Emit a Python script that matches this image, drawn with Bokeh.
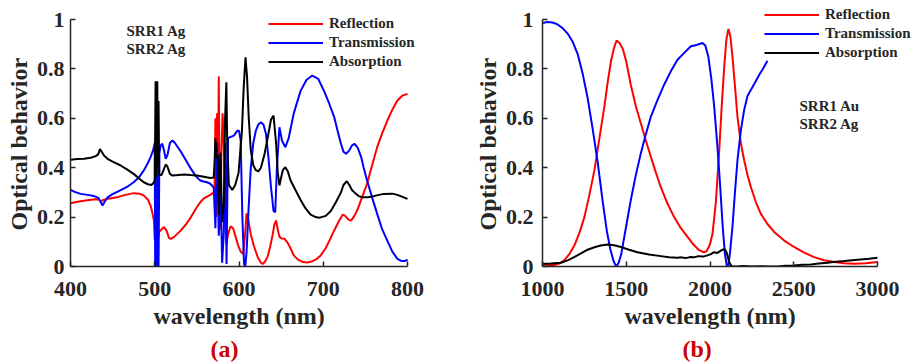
from bokeh.plotting import figure
from bokeh.layouts import row
from bokeh.models import Label, Legend, LegendItem, Title, FixedTicker, Range1d
from bokeh.embed import file_html
from bokeh.resources import INLINE

# ---------------- Panel (a): SRR1 Ag / SRR2 Ag ----------------
wl_a_R = [400, 410, 420, 430, 434, 436, 438, 445, 455, 465, 475, 482, 487, 492, 495, 497, 499, 500, 501, 502, 503, 504, 505, 508, 511, 514, 517, 519, 523, 527, 531, 537, 543, 549, 554, 558, 562, 566, 570, 571, 572, 573, 574, 575, 576, 577, 578, 579, 580.5, 582, 583.5, 585, 587, 590, 593, 596, 599, 602, 605, 607, 609, 611, 614, 618, 622, 626, 628, 631, 634, 637, 640, 642, 644, 646, 648, 651, 654, 657, 661, 665, 670, 676, 681, 686, 692, 697, 703, 708, 713, 718, 723, 726, 730, 733, 737, 741, 746, 752, 758, 764, 770, 776, 782, 788, 794, 800]
R_a = [0.256, 0.263, 0.268, 0.272, 0.271, 0.262, 0.268, 0.274, 0.28, 0.29, 0.297, 0.295, 0.287, 0.27, 0.247, 0.22, 0.186, 0.108, 0.14, 0.11, 0.13, 0.11, 0.14, 0.15, 0.16, 0.145, 0.115, 0.112, 0.12, 0.133, 0.146, 0.17, 0.2, 0.235, 0.26, 0.275, 0.283, 0.29, 0.3, 0.31, 0.6, 0.2, 0.62, 0.3, 0.77, 0.25, 0.15, 0.45, 0.62, 0.5, 0.25, 0.09, 0.13, 0.163, 0.155, 0.12, 0.085, 0.06, 0.05, 0.12, 0.215, 0.19, 0.13, 0.08, 0.04, 0.015, 0.01, 0.02, 0.04, 0.08, 0.13, 0.17, 0.186, 0.15, 0.12, 0.113, 0.112, 0.1, 0.075, 0.045, 0.028, 0.018, 0.016, 0.02, 0.03, 0.045, 0.075, 0.11, 0.146, 0.18, 0.21, 0.205, 0.19, 0.186, 0.205, 0.233, 0.28, 0.335, 0.41, 0.483, 0.54, 0.59, 0.635, 0.672, 0.692, 0.699]

wl_a_T = [400, 405, 412, 420, 428, 433, 436, 438, 441, 444, 450, 459, 467, 475, 481, 487, 492, 495, 498, 500, 500.5, 501, 501.5, 502, 502.5, 503, 503.5, 504, 504.5, 505.5, 507, 509, 511, 513, 515, 518, 521, 524, 527, 531, 537, 543, 549, 554, 558, 562, 566, 570, 572, 574, 576, 578, 580, 582, 584, 585.2, 587, 590, 594, 598, 600, 602, 604, 606, 607.5, 609, 611.6, 614, 617, 620, 623, 626, 629, 632, 635, 638, 641, 643, 645, 648, 651, 655, 659, 665, 673, 680, 687, 694, 701, 707, 713, 717, 721, 724, 727, 731, 734, 737, 741, 745, 748, 752, 758, 764, 770, 776, 782, 788, 793, 797, 800]
T_a = [0.31, 0.302, 0.294, 0.29, 0.285, 0.278, 0.26, 0.247, 0.265, 0.28, 0.293, 0.308, 0.322, 0.341, 0.36, 0.389, 0.42, 0.443, 0.47, 0.5, 0.0, 0.45, 0.0, 0.38, 0.0, 0.4, 0.02, 0.35, 0.0, 0.46, 0.49, 0.497, 0.47, 0.436, 0.45, 0.5, 0.51, 0.5, 0.485, 0.465, 0.43, 0.395, 0.365, 0.348, 0.344, 0.341, 0.335, 0.32, 0.155, 0.5, 0.125, 0.34, 0.015, 0.14, 0.5, 0.01, 0.52, 0.525, 0.53, 0.55, 0.55, 0.51, 0.2, 0.01, 0.0, 0.06, 0.25, 0.4, 0.5, 0.55, 0.575, 0.584, 0.575, 0.537, 0.44, 0.32, 0.225, 0.22, 0.4, 0.564, 0.51, 0.483, 0.52, 0.62, 0.71, 0.755, 0.773, 0.76, 0.71, 0.66, 0.605, 0.55, 0.497, 0.465, 0.456, 0.47, 0.49, 0.497, 0.48, 0.443, 0.4, 0.348, 0.28, 0.213, 0.15, 0.105, 0.06, 0.031, 0.022, 0.022, 0.028]

wl_a_A = [400, 408, 416, 424, 430, 433, 435, 437, 440, 444, 450, 459, 467, 475, 481, 487, 492, 496, 499, 500, 501, 501.5, 502, 503, 503.7, 504.5, 505.3, 508, 511, 513, 515, 518, 521, 528, 535, 542, 550, 560, 566, 570, 571, 572, 573, 574, 575, 576, 577, 578, 580, 582, 583.5, 585, 586, 588, 592, 595.5, 599.5, 603.5, 605.5, 607.7, 609.5, 611.6, 614, 617, 620, 623, 626, 630, 634, 638, 641, 644, 646, 648, 650, 652, 655, 658, 661, 667, 673, 679, 685, 691, 695, 703, 709, 715, 721, 724, 728, 731, 734, 737, 742, 747, 753, 760, 766, 772, 782, 788, 794, 800]
A_a = [0.432, 0.435, 0.436, 0.44, 0.447, 0.455, 0.475, 0.465, 0.448, 0.436, 0.425, 0.41, 0.393, 0.375, 0.357, 0.341, 0.333, 0.33, 0.34, 0.35, 0.75, 0.36, 0.5, 0.75, 0.4, 0.67, 0.37, 0.37, 0.395, 0.413, 0.405, 0.375, 0.368, 0.37, 0.372, 0.37, 0.368, 0.362, 0.358, 0.36, 0.42, 0.52, 0.46, 0.44, 0.45, 0.21, 0.35, 0.46, 0.18, 0.25, 0.6, 0.746, 0.5, 0.33, 0.31, 0.33, 0.38, 0.55, 0.72, 0.847, 0.77, 0.6, 0.47, 0.41, 0.39, 0.385, 0.4, 0.45, 0.52, 0.595, 0.611, 0.5, 0.38, 0.328, 0.36, 0.39, 0.402, 0.385, 0.35, 0.31, 0.27, 0.235, 0.21, 0.2, 0.197, 0.205, 0.225, 0.26, 0.3, 0.33, 0.345, 0.33, 0.31, 0.3, 0.285, 0.28, 0.28, 0.285, 0.29, 0.294, 0.295, 0.29, 0.282, 0.274]

# ---------------- Panel (b): SRR1 Au / SRR2 Ag ----------------
wl_b_R = [1000, 1040, 1070, 1100, 1130, 1160, 1190, 1220, 1250, 1280, 1310, 1340, 1370, 1390, 1410, 1425, 1442, 1460, 1480, 1500, 1527, 1557, 1587, 1617, 1647, 1677, 1706, 1746, 1786, 1826, 1866, 1900, 1935, 1960, 1980, 2000, 2015, 2035, 2055, 2070, 2085, 2098, 2110, 2122, 2134, 2149, 2164, 2184, 2204, 2224, 2244, 2274, 2303, 2343, 2383, 2443, 2502, 2562, 2622, 2681, 2741, 2800, 2861, 2930, 3000]
R_b = [0.008, 0.006, 0.006, 0.012, 0.025, 0.05, 0.085, 0.135, 0.2, 0.29, 0.39, 0.52, 0.65, 0.75, 0.835, 0.88, 0.915, 0.905, 0.88, 0.83, 0.736, 0.65, 0.58, 0.51, 0.444, 0.38, 0.322, 0.255, 0.2, 0.155, 0.12, 0.09, 0.066, 0.058, 0.062, 0.09, 0.133, 0.26, 0.47, 0.65, 0.81, 0.92, 0.962, 0.93, 0.85, 0.73, 0.607, 0.5, 0.43, 0.37, 0.322, 0.26, 0.214, 0.172, 0.14, 0.105, 0.079, 0.056, 0.038, 0.025, 0.018, 0.013, 0.011, 0.013, 0.018]

wl_b_T = [1000, 1030, 1060, 1090, 1120, 1150, 1180, 1210, 1240, 1270, 1300, 1330, 1360, 1385, 1405, 1425, 1440, 1455, 1470, 1500, 1527, 1557, 1587, 1617, 1647, 1687, 1726, 1766, 1806, 1846, 1886, 1920, 1955, 1972, 1990, 2008, 2025, 2045, 2061, 2075, 2089, 2100, 2109, 2120, 2134, 2149, 2164, 2184, 2204, 2224, 2244, 2269, 2294, 2320, 2343]
T_b = [0.986, 0.99, 0.988, 0.98, 0.965, 0.943, 0.91, 0.86, 0.78, 0.68, 0.555, 0.42, 0.26, 0.14, 0.07, 0.02, 0.0, 0.015, 0.05, 0.165, 0.268, 0.37, 0.458, 0.535, 0.607, 0.675, 0.736, 0.79, 0.837, 0.865, 0.892, 0.897, 0.905, 0.895, 0.85, 0.76, 0.648, 0.48, 0.322, 0.17, 0.05, 0.005, 0.0, 0.06, 0.16, 0.3, 0.43, 0.55, 0.634, 0.69, 0.715, 0.745, 0.776, 0.805, 0.833]

wl_b_A = [1000, 1050, 1109, 1150, 1189, 1230, 1269, 1310, 1348, 1388, 1428, 1468, 1517, 1567, 1636, 1706, 1756, 1806, 1830, 1855, 1880, 1905, 1930, 1960, 1985, 2005, 2025, 2045, 2060, 2075, 2088, 2100, 2114, 2125, 2134, 2170, 2204, 2250, 2300, 2350, 2403, 2450, 2502, 2550, 2602, 2650, 2701, 2750, 2801, 2850, 2900, 2950, 3000]
A_b = [0.011, 0.012, 0.015, 0.025, 0.038, 0.053, 0.068, 0.078, 0.085, 0.089, 0.086, 0.079, 0.068, 0.058, 0.049, 0.042, 0.037, 0.035, 0.037, 0.034, 0.038, 0.037, 0.042, 0.04, 0.045, 0.05, 0.058, 0.055, 0.062, 0.068, 0.07, 0.055, 0.018, 0.005, 0.0, 0.001, 0.002, 0.0, 0.001, 0.0, 0.0, 0.003, 0.004, 0.007, 0.008, 0.012, 0.015, 0.019, 0.022, 0.025, 0.028, 0.031, 0.035]

x_ticks_a = [400, 500, 600, 700, 800]
x_ticks_b = [1000, 1500, 2000, 2500, 3000]
y_ticks = [0, 0.2, 0.4, 0.6, 0.8, 1]
series_names = ["Reflection", "Transmission", "Absorption"]
series_colors = ["#ff0000", "#0000ff", "#000000"]
x_title = "wavelength (nm)"
y_title = "Optical behavior"

FONT = "Liberation Serif"
AXC = "#262626"

H = 364
BOTTOM = 98
TOP = 2
AXIS_PX = 247  # pixel height of the 0..1 axis


def make_panel(width, left, axis_px_w, xb, xticks, data, notes, note_xy, legend_xy,
               tag, tag_offset, xt_offset, ylab_standoff):
    right = 2
    frame_w = width - left - right
    frame_h = H - BOTTOM - TOP
    # ranges extend past the axis bounds so legend text may overflow like the original
    x_end = xb[0] + frame_w * (xb[1] - xb[0]) / axis_px_w
    y_end = frame_h / AXIS_PX
    p = figure(width=width, height=H, output_backend="svg", toolbar_location=None,
               x_range=Range1d(xb[0], x_end), y_range=Range1d(0, y_end),
               min_border_left=left, min_border_right=right,
               min_border_top=TOP, min_border_bottom=BOTTOM)
    p.outline_line_color = None
    p.xgrid.visible = False
    p.ygrid.visible = False
    p.background_fill_color = "white"
    p.border_fill_color = "white"

    for ax in (p.xaxis[0], p.yaxis[0]):
        ax.axis_line_color = AXC
        ax.axis_line_width = 1.5
        ax.major_tick_line_color = AXC
        ax.major_tick_line_width = 1.5
        ax.major_tick_in = 5
        ax.major_tick_out = 0
        ax.minor_tick_line_color = None
        ax.major_label_text_font = FONT
        ax.major_label_text_font_style = "bold"
        ax.major_label_text_font_size = "22px"
        ax.major_label_text_color = AXC

    p.xaxis[0].bounds = (xb[0], xb[1])
    p.yaxis[0].bounds = (0, 1)
    p.xaxis[0].ticker = FixedTicker(ticks=xticks)
    p.yaxis[0].ticker = FixedTicker(ticks=y_ticks)
    p.yaxis[0].major_label_overrides = {0: "0", 1: "1"}
    p.xaxis[0].major_label_standoff = 15
    p.yaxis[0].major_label_standoff = ylab_standoff

    items = []
    for (xs, ys), name, col in zip(data, series_names, series_colors):
        r = p.line(xs, ys, line_color=col, line_width=2)
        items.append(LegendItem(label=name, renderers=[r]))

    leg = Legend(items=items, location=legend_xy, glyph_width=55, glyph_height=19,
                 label_height=19, label_standoff=6, spacing=0, padding=0, margin=0,
                 border_line_alpha=0, background_fill_alpha=0,
                 label_text_font=FONT, label_text_font_style="bold",
                 label_text_font_size="15px", label_text_color=AXC)
    p.add_layout(leg, "center")

    for txt, (nx, ny) in zip(notes, note_xy):
        p.add_layout(Label(x=nx, y=ny, x_units="screen", y_units="screen", text=txt,
                           text_font=FONT, text_font_style="bold", text_font_size="15px",
                           text_baseline="middle", text_color=AXC))

    xt = Title(text=x_title, align="left", offset=xt_offset, standoff=4, text_color=AXC,
               text_font=FONT, text_font_style="bold", text_font_size="24px")
    p.add_layout(xt, "below")
    t = Title(text=tag, align="left", offset=tag_offset, standoff=6, text_color="#cc0000",
              text_font=FONT, text_font_style="bold", text_font_size="24px")
    p.add_layout(t, "below")
    yt = Title(text=y_title, align="left", offset=36, standoff=4, text_color=AXC,
               text_font=FONT, text_font_style="bold", text_font_size="24px")
    p.add_layout(yt, "left")
    return p


pa = make_panel(460, 70, 337, (400, 800), x_ticks_a,
                [(wl_a_R, R_a), (wl_a_T, T_a), (wl_a_A, A_a)],
                ["SRR1 Ag", "SRR2 Ag"], [(56, 236), (56, 218)], (198, 195),
                "(a)", 140, 83, 6)
pb = make_panel(458, 82, 335, (1000, 3000), x_ticks_b,
                [(wl_b_R, R_b), (wl_b_T, T_b), (wl_b_A, A_b)],
                ["SRR1 Au", "SRR2 Ag"], [(257, 161), (257, 143)], (222, 204),
                "(b)", 140, 82, 9)

layout = row(pa, pb, spacing=0)
open("out.html", "w").write(file_html(layout, INLINE))
